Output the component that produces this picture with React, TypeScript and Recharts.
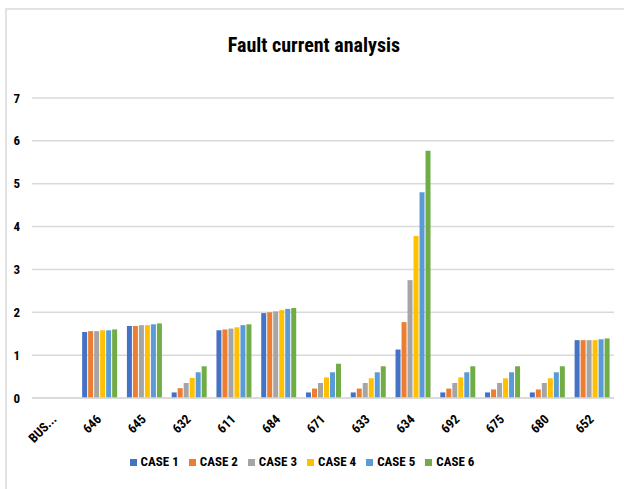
import { BarChart, Bar, XAxis, YAxis, CartesianGrid, Legend } from "recharts";

const buses = ["BUS...", "646", "645", "632", "611", "684", "671", "633", "634", "692", "675", "680", "652"];

const case1 = [null, 1.54, 1.68, 0.13, 1.58, 1.98, 0.13, 0.13, 1.13, 0.13, 0.13, 0.13, 1.35];
const case2 = [null, 1.56, 1.68, 0.23, 1.6, 2.0, 0.22, 0.22, 1.77, 0.22, 0.2, 0.2, 1.35];
const case3 = [null, 1.56, 1.7, 0.35, 1.62, 2.02, 0.35, 0.35, 2.75, 0.35, 0.35, 0.35, 1.35];
const case4 = [null, 1.58, 1.7, 0.47, 1.65, 2.05, 0.48, 0.46, 3.78, 0.48, 0.46, 0.46, 1.35];
const case5 = [null, 1.58, 1.72, 0.6, 1.7, 2.08, 0.6, 0.6, 4.8, 0.6, 0.6, 0.6, 1.37];
const case6 = [null, 1.6, 1.74, 0.74, 1.72, 2.1, 0.8, 0.74, 5.77, 0.74, 0.74, 0.74, 1.39];

const yTicks = [0, 1, 2, 3, 4, 5, 6, 7];

const seriesNames = ["CASE 1", "CASE 2", "CASE 3", "CASE 4", "CASE 5", "CASE 6"];
const seriesColors = ["#4472C4", "#ED7D31", "#A5A5A5", "#FFC000", "#5B9BD5", "#70AD47"];
const seriesValues = [case1, case2, case3, case4, case5, case6];

const data = buses.map((bus, i) => {
  const row: Record<string, string | number | null> = { bus };
  seriesNames.forEach((name, s) => {
    row[name] = seriesValues[s][i];
  });
  return row;
});

const font = "'Liberation Sans Narrow', 'Roboto Condensed', 'DejaVu Sans Condensed', sans-serif";

function XTick({ x, y, payload }: any) {
  return (
    <text
      x={x + 3}
      y={y + 14}
      transform={`rotate(-45 ${x + 3} ${y + 14})`}
      textAnchor="end"
      fontFamily={font}
      fontWeight="bold"
      fontSize={13}
      fill="#000"
    >
      {payload.value}
    </text>
  );
}

function YTick({ x, y, payload }: any) {
  return (
    <text x={x - 4} y={y} dy="0.35em" textAnchor="end" fontFamily={font} fontWeight="bold" fontSize={13} fill="#000">
      {payload.value}
    </text>
  );
}

export default function App() {
  return (
    <div style={{ position: "absolute", left: 0, top: 0, width: 624, height: 489, background: "#fff" }}>
      <svg style={{ position: "absolute", left: 0, top: 0 }} width={624} height={489}>
        <rect x={6} y={9} width={640} height={500} fill="none" stroke="#d9d9d9" strokeWidth={1.5} />
        <text x={314} y={52} textAnchor="middle" fontFamily={font} fontWeight="bold" fontSize={20} fill="#000">
          Fault current analysis
        </text>
      </svg>
      <div style={{ position: "absolute", left: 0, top: 0 }}>
        <BarChart
          width={624}
          height={489}
          data={data}
          margin={{ top: 98, right: 10, left: 0, bottom: 20 }}
          barCategoryGap="12%"
          barGap={1}
        >
          <CartesianGrid vertical={false} stroke="#d9d9d9" strokeWidth={1.5} />
          <XAxis
            dataKey="bus"
            tickLine={false}
            axisLine={{ stroke: "#d9d9d9", strokeWidth: 1.5 }}
            tick={<XTick />}
            interval={0}
            height={56}
          />
          <YAxis
            domain={[0, 7]}
            ticks={yTicks}
            tickLine={false}
            axisLine={false}
            tick={<YTick />}
            width={32}
          />
          <Legend
            verticalAlign="bottom"
            iconType="square"
            iconSize={7}
            wrapperStyle={{ fontFamily: font, fontWeight: "bold", fontSize: 13, color: "#000" }}
            formatter={(value: string) => <span style={{ color: "#000" }}>{value}</span>}
          />
          {seriesNames.map((name, s) => (
            <Bar key={name} dataKey={name} fill={seriesColors[s]} isAnimationActive={false} />
          ))}
        </BarChart>
      </div>
    </div>
  );
}
